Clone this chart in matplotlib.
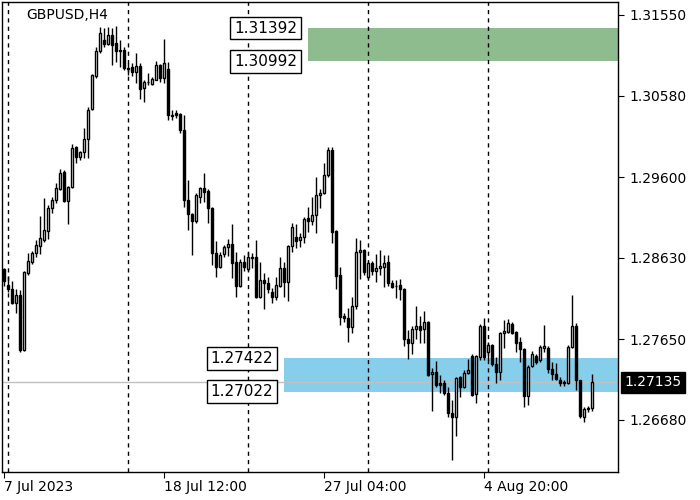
import matplotlib

matplotlib.use("Agg")  # headless
import matplotlib.pyplot as plt
import matplotlib.transforms as mtransforms
from matplotlib.patches import Rectangle
import numpy as np

# GBPUSD H4 candles (index 0 = 7 Jul 2023 20:00)
opens = [
    1.28496, 1.28303, 1.28255, 1.28087, 1.28183, 1.27521, 1.28447, 1.28580, 1.28688, 1.28772,
    1.28844, 1.28952, 1.29229, 1.29325, 1.29458, 1.29662, 1.29313, 1.29482, 1.29962, 1.29842,
    1.29902, 1.30059, 1.30419, 1.30816, 1.31117, 1.31249, 1.31201, 1.31309, 1.31213, 1.31129,
    1.31129, 1.30913, 1.30925, 1.30864, 1.30937, 1.30672, 1.30744, 1.30720, 1.30768, 1.30949,
    1.30792, 1.30901, 1.30347, 1.30371, 1.30359, 1.30167, 1.29325, 1.29157, 1.29073, 1.29361,
    1.29470, 1.29433, 1.29229, 1.28688, 1.28520, 1.28676, 1.28760, 1.28796, 1.28580, 1.28291,
    1.28580, 1.28496, 1.28628, 1.28640, 1.28159, 1.28363, 1.28327, 1.28219, 1.28159, 1.28291,
    1.28508, 1.28339, 1.28772, 1.28880, 1.28844, 1.28880, 1.29109, 1.29073, 1.29145, 1.29385,
    1.29409, 1.29626, 1.29926, 1.28952, 1.28423, 1.27930, 1.27906, 1.27798, 1.28050, 1.28700,
    1.28724, 1.28399, 1.28568, 1.28471, 1.28508, 1.28520, 1.28580, 1.28327, 1.28291, 1.28303,
    1.28255, 1.27654, 1.27606, 1.27774, 1.27810, 1.27774, 1.27858, 1.27233, 1.27257, 1.27125,
    1.27125, 1.27004, 1.26764, 1.26716, 1.27197, 1.27076, 1.27245, 1.27449, 1.26992, 1.27437,
    1.27810, 1.27497, 1.27581, 1.27353, 1.27257, 1.27726, 1.27738, 1.27834, 1.27738, 1.27618,
    1.27533, 1.26968, 1.27329, 1.27449, 1.27401, 1.27545, 1.27545, 1.27293, 1.27233, 1.27161,
    1.27137, 1.27125, 1.27557, 1.27810, 1.27161, 1.26716, 1.26812, 1.26824,
]
highs = [
    1.28508, 1.28411, 1.28351, 1.28255, 1.28243, 1.28471, 1.28688, 1.28712, 1.28844, 1.29133,
    1.29349, 1.29265, 1.29361, 1.29530, 1.29698, 1.29686, 1.29494, 1.29999, 1.29974, 1.29914,
    1.30191, 1.30444, 1.30840, 1.31165, 1.31406, 1.31394, 1.31406, 1.31394, 1.31418, 1.31249,
    1.31165, 1.30973, 1.30973, 1.31093, 1.30973, 1.30768, 1.30852, 1.30804, 1.30997, 1.30961,
    1.31261, 1.30985, 1.30407, 1.30407, 1.30371, 1.30347, 1.29566, 1.29169, 1.29409, 1.29482,
    1.29650, 1.29458, 1.29241, 1.28832, 1.28700, 1.28784, 1.28856, 1.29037, 1.28700, 1.28616,
    1.28664, 1.28700, 1.28688, 1.28844, 1.28580, 1.28447, 1.28399, 1.28267, 1.28399, 1.28640,
    1.28580, 1.28784, 1.29049, 1.29037, 1.28928, 1.29121, 1.29241, 1.29361, 1.29602, 1.29458,
    1.29770, 1.29962, 1.29962, 1.28964, 1.28520, 1.27966, 1.28026, 1.28159, 1.28868, 1.28844,
    1.28736, 1.28592, 1.28592, 1.28676, 1.28724, 1.28664, 1.28664, 1.28363, 1.28363, 1.28375,
    1.28267, 1.27762, 1.27810, 1.28050, 1.27930, 1.27990, 1.27870, 1.27305, 1.27389, 1.27221,
    1.27161, 1.27076, 1.26920, 1.27197, 1.27209, 1.27281, 1.27413, 1.27473, 1.27461, 1.27834,
    1.27906, 1.27618, 1.27594, 1.27437, 1.27738, 1.27882, 1.27894, 1.27858, 1.27750, 1.27678,
    1.27545, 1.27341, 1.27509, 1.27473, 1.27581, 1.27822, 1.27569, 1.27377, 1.27365, 1.27197,
    1.27161, 1.27581, 1.28183, 1.27846, 1.27165, 1.26836, 1.26848, 1.27233,
]
lows = [
    1.28291, 1.28219, 1.28075, 1.27966, 1.27497, 1.27509, 1.28423, 1.28556, 1.28640, 1.28676,
    1.28820, 1.28856, 1.29169, 1.29289, 1.29445, 1.29301, 1.29037, 1.29470, 1.29770, 1.29806,
    1.29830, 1.29830, 1.30407, 1.30792, 1.31093, 1.31165, 1.31189, 1.30949, 1.30985, 1.30925,
    1.30888, 1.30828, 1.30816, 1.30732, 1.30540, 1.30504, 1.30708, 1.30708, 1.30768, 1.30744,
    1.30732, 1.30287, 1.30287, 1.30311, 1.30131, 1.29241, 1.28964, 1.28664, 1.29049, 1.29289,
    1.29301, 1.29049, 1.28544, 1.28399, 1.28508, 1.28640, 1.28652, 1.28387, 1.28159, 1.28279,
    1.28471, 1.28471, 1.28508, 1.28147, 1.28147, 1.28014, 1.28207, 1.28087, 1.28123, 1.28279,
    1.28159, 1.28111, 1.28700, 1.28748, 1.28760, 1.28808, 1.28940, 1.29025, 1.28928, 1.29229,
    1.29397, 1.29602, 1.28808, 1.28255, 1.27822, 1.27858, 1.27618, 1.27726, 1.28014, 1.28375,
    1.28423, 1.28375, 1.28423, 1.28339, 1.28423, 1.28279, 1.28291, 1.28267, 1.28147, 1.28123,
    1.27570, 1.27413, 1.27473, 1.27654, 1.27606, 1.27606, 1.27209, 1.26788, 1.27076, 1.27004,
    1.26980, 1.26716, 1.26199, 1.26487, 1.26956, 1.27064, 1.27233, 1.26968, 1.26884, 1.27401,
    1.27401, 1.27401, 1.27329, 1.27125, 1.27161, 1.27545, 1.27726, 1.27714, 1.27497, 1.27377,
    1.26836, 1.26860, 1.27317, 1.27353, 1.27377, 1.27497, 1.27245, 1.27161, 1.27161, 1.27088,
    1.27088, 1.27113, 1.27545, 1.27040, 1.26704, 1.26656, 1.26776, 1.26788,
]
closes = [
    1.28351, 1.28255, 1.28087, 1.28183, 1.27521, 1.28459, 1.28592, 1.28688, 1.28784, 1.28868,
    1.28964, 1.29229, 1.29325, 1.29470, 1.29650, 1.29313, 1.29482, 1.29950, 1.29842, 1.29902,
    1.30059, 1.30407, 1.30828, 1.31117, 1.31333, 1.31201, 1.31309, 1.31189, 1.31117, 1.31117,
    1.30913, 1.30901, 1.30864, 1.30937, 1.30660, 1.30744, 1.30740, 1.30780, 1.30949, 1.30792,
    1.30973, 1.30347, 1.30340, 1.30347, 1.30167, 1.29325, 1.29157, 1.29073, 1.29385, 1.29470,
    1.29421, 1.29229, 1.28688, 1.28520, 1.28664, 1.28760, 1.28796, 1.28568, 1.28291, 1.28580,
    1.28520, 1.28640, 1.28640, 1.28159, 1.28363, 1.28327, 1.28255, 1.28159, 1.28303, 1.28508,
    1.28339, 1.28772, 1.29000, 1.28832, 1.28880, 1.29097, 1.29073, 1.29145, 1.29385, 1.29409,
    1.29626, 1.29926, 1.28940, 1.28411, 1.27918, 1.27906, 1.27798, 1.28050, 1.28700, 1.28724,
    1.28459, 1.28568, 1.28471, 1.28508, 1.28532, 1.28568, 1.28327, 1.28279, 1.28285, 1.28255,
    1.27654, 1.27606, 1.27774, 1.27810, 1.27762, 1.27858, 1.27221, 1.27257, 1.27100, 1.27100,
    1.27004, 1.26764, 1.26716, 1.27185, 1.27076, 1.27245, 1.27281, 1.26980, 1.27449, 1.27810,
    1.27437, 1.27581, 1.27353, 1.27257, 1.27726, 1.27750, 1.27846, 1.27726, 1.27606, 1.27533,
    1.26968, 1.27317, 1.27473, 1.27377, 1.27557, 1.27569, 1.27293, 1.27233, 1.27173, 1.27125,
    1.27125, 1.27557, 1.27810, 1.27161, 1.26728, 1.26812, 1.26824, 1.27135,
]

price_ticks = [1.31550, 1.30580, 1.29600, 1.28630, 1.27650, 1.26680]
time_tick_idx = [0, 40, 80, 120]
time_tick_labels = ["7 Jul 2023", "18 Jul 12:00", "27 Jul 04:00", "4 Aug 20:00"]
week_start_idx = [1, 31, 61, 91, 121]

resist_low, resist_high = 1.30992, 1.31392
support_low, support_high = 1.27022, 1.27422
resist_start = 76
support_start = 70
last_price = 1.27135

o = np.array(opens)
h = np.array(highs)
l = np.array(lows)
c = np.array(closes)
x = np.arange(len(o))

fig = plt.figure(figsize=(7, 5), dpi=100)
ax = fig.add_axes([2 / 700, 28 / 500, 616 / 700, 470 / 500])
x_right = 153.625
ax.set_xlim(-0.375, x_right)
ax.set_ylim(1.26054, 1.31706)

# zones
ax.add_patch(Rectangle((resist_start, resist_low), x_right - resist_start + 1,
                       resist_high - resist_low, facecolor="#8fbc8f", edgecolor="none", zorder=1))
ax.add_patch(Rectangle((support_start, support_low), x_right - support_start + 1,
                       support_high - support_low, facecolor="#87ceeb", edgecolor="none", zorder=1))

# weekly separators
for w in week_start_idx:
    ax.axvline(w, color="black", linewidth=1, linestyle=(0, (3, 3)), zorder=1.2)

# bid line
ax.axhline(last_price, color="#c0c0c0", linewidth=1, zorder=1.5)

# candles
ax.vlines(x, l, h, color="black", linewidth=1, zorder=2)
up = c >= o
bottom = np.minimum(o, c)
height = np.maximum(np.abs(c - o), 0.00002)
ax.bar(x[up], height[up], bottom=bottom[up], width=0.5, facecolor="white",
       edgecolor="black", linewidth=1, zorder=3)
ax.bar(x[~up], height[~up], bottom=bottom[~up], width=0.5, facecolor="black",
       edgecolor="black", linewidth=1, zorder=3)

# zone price labels
box = dict(facecolor="white", edgecolor="black", linewidth=1, boxstyle="square,pad=0.25")
for px, price in [(resist_start - 2.6, resist_high), (resist_start - 2.6, resist_low),
                  (support_start - 2.6, support_high), (support_start - 2.6, support_low)]:
    ax.text(px, price, f"{price:.5f}", ha="right", va="center", fontsize=11,
            bbox=box, zorder=5)

# axes styling
for s in ax.spines.values():
    s.set_color("black")
    s.set_linewidth(1)
ax.yaxis.tick_right()
ax.set_yticks(price_ticks)
ax.set_yticklabels([f"{p:.5f}" for p in price_ticks])
ax.set_xticks(time_tick_idx)
ax.set_xticklabels(time_tick_labels)
for lbl in ax.get_xticklabels():
    lbl.set_ha("left")
ax.tick_params(axis="y", direction="out", length=4, pad=4, labelsize=10, colors="black")
ax.tick_params(axis="x", direction="out", length=4, pad=2, labelsize=10, colors="black")

# current price tag
trans = mtransforms.blended_transform_factory(ax.transAxes, ax.transData)
ax.text(1.0 + 6 / 616, last_price, f"{last_price:.5f}", transform=trans, ha="left",
        va="center", color="white", fontsize=10, clip_on=False, zorder=6,
        bbox=dict(facecolor="black", edgecolor="black", boxstyle="square,pad=0.25"))

fig.text(26 / 700, 1 - 15 / 500, "GBPUSD,H4", ha="left", va="center", fontsize=10)

fig.savefig("out.png", dpi=100)
plt.close(fig)
